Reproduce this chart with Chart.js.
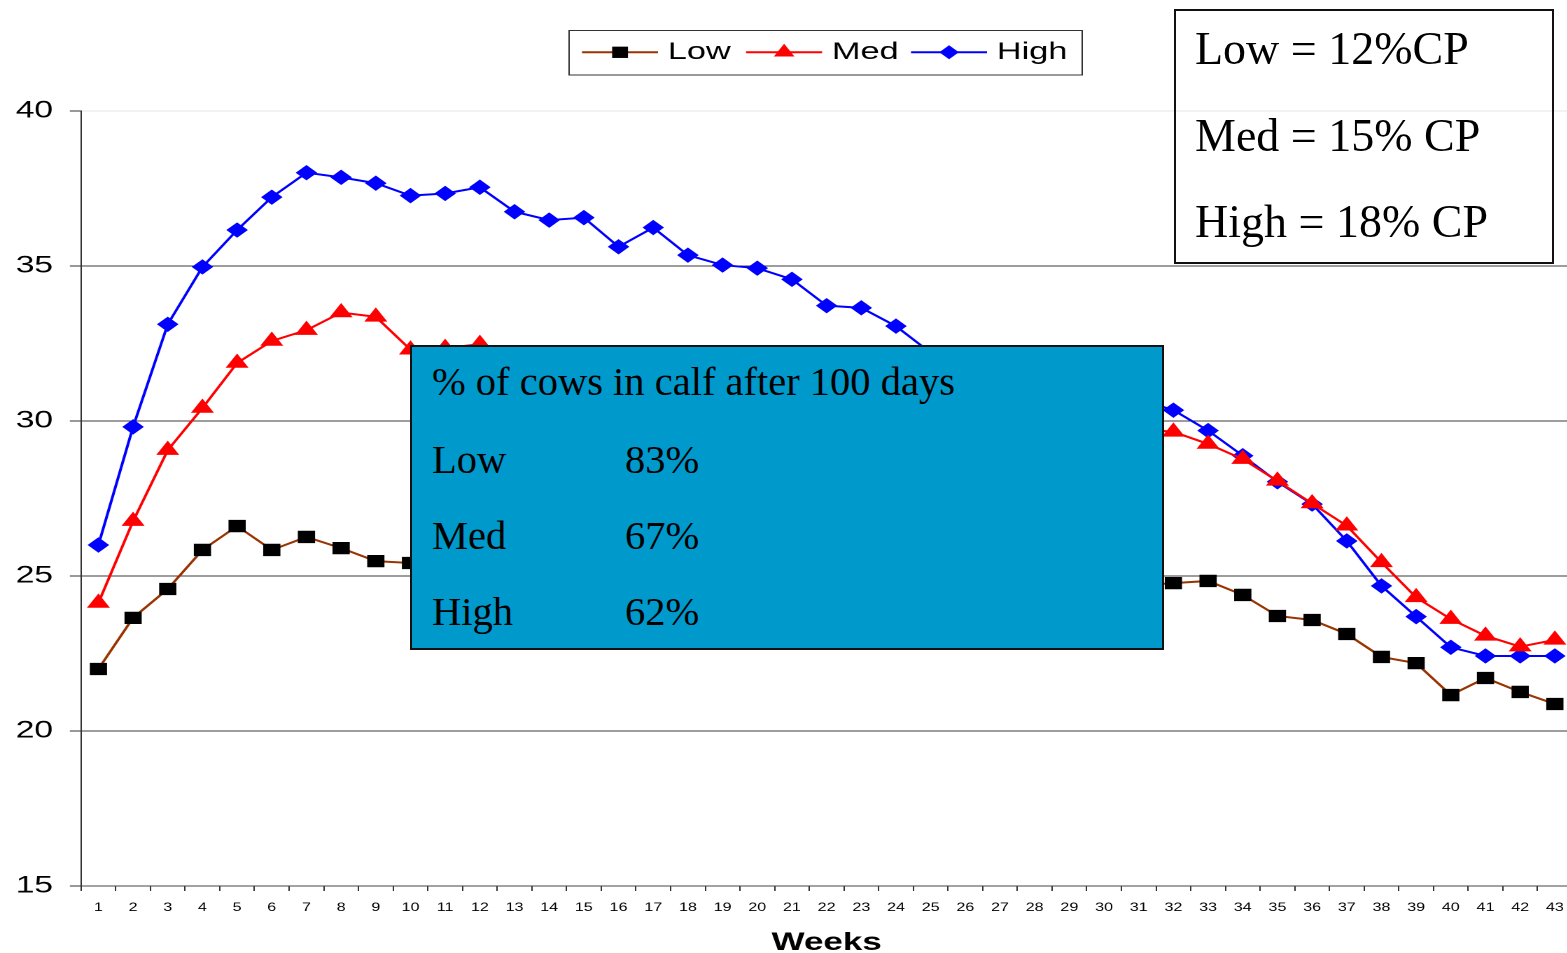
<!DOCTYPE html>
<html>
<head>
<meta charset="utf-8">
<script src="https://cdn.jsdelivr.net/npm/chart.js@4/dist/chart.umd.min.js"></script>
<style>
  html, body { margin:0; padding:0; background:#fff; }
  body { width:1567px; height:953px; overflow:hidden; position:relative; }
  #wrap { position:absolute; left:0; top:0; width:1127px; height:953px; transform:scaleX(1.4); transform-origin:0 0; }
  .box { position:absolute; box-sizing:border-box; border:2px solid #111; }
  .t { position:absolute; white-space:nowrap; font-family:"Liberation Serif","DejaVu Serif",serif; color:#000; line-height:1; }
  #cp .t { font-size:46px; }
  #blue .t { font-size:40.5px; }
</style>
</head>
<body>
<div id="wrap"><canvas id="c" width="1127" height="953"></canvas></div>

<div id="cp" class="box" style="left:1174px;top:9px;width:380px;height:255px;background:transparent;">
  <div class="t" style="left:19px;top:15px;">Low = 12%CP</div>
  <div class="t" style="left:19px;top:102px;">Med = 15% CP</div>
  <div class="t" style="left:19px;top:188px;">High = 18% CP</div>
</div>

<div id="blue" class="box" style="left:410px;top:345px;width:754px;height:305px;background:#0099CC;">
  <div class="t" style="left:20px;top:15px;">% of cows in calf after 100 days</div>
  <div class="t" style="left:20px;top:93px;">Low</div>
  <div class="t" style="left:213px;top:93px;">83%</div>
  <div class="t" style="left:20px;top:169px;">Med</div>
  <div class="t" style="left:213px;top:169px;">67%</div>
  <div class="t" style="left:20px;top:245px;">High</div>
  <div class="t" style="left:213px;top:245px;">62%</div>
</div>

<script>
// ---- data ----
const weeks = ['1','2','3','4','5','6','7','8','9','10','11','12','13','14','15','16','17','18','19','20','21','22','23','24','25','26','27','28','29','30','31','32','33','34','35','36','37','38','39','40','41','42','43'];
const seriesNames = ['Low','Med','High'];
const lowValues = [22.0, 23.65, 24.58, 25.84, 26.61, 25.84, 26.26, 25.9, 25.48, 25.42,
  25.5, 25.3, 25.4, 25.2, 25.3, 25.0, 25.2, 25.1, 24.9, 25.0, 24.9, 24.7, 24.8, 24.9, 24.6, 24.8, 24.7, 24.6, 24.8, 24.7, 24.7,
  24.77, 24.84, 24.39, 23.71, 23.58, 23.13, 22.39, 22.19, 21.16, 21.71, 21.26, 20.87];
const medValues = [24.13, 26.77, 29.06, 30.42, 31.87, 32.58, 32.93, 33.5, 33.36, 32.3, 32.35, 32.48,
  32.0, 31.8, 31.9, 31.4, 31.6, 31.2, 31.0, 31.1, 30.8, 30.5, 30.6, 30.3, 30.2, 30.0, 30.1, 29.9, 29.8, 29.9, 29.75,
  29.65, 29.26, 28.77, 28.07, 27.34, 26.62, 25.44, 24.31, 23.61, 23.07, 22.72, 22.94];
const highValues = [26.0, 29.81, 33.12, 34.97, 36.16, 37.22, 38.01, 37.86, 37.67, 37.27, 37.34, 37.54,
  36.75, 36.48, 36.56, 35.62, 36.24, 35.35, 35.03, 34.93, 34.57, 33.72, 33.65, 33.06,
  32.2, 31.9, 31.7, 31.3, 31.1, 30.9, 30.7,
  30.35, 29.69, 28.88, 28.04, 27.32, 26.13, 24.68, 23.69, 22.7, 22.42, 22.42, 22.42];
const yTicks = [15, 20, 25, 30, 35, 40];
const xTitle = 'Weeks';

// ---- styles ----
const styles = [
  { line:'#993300', fill:'#000000', point:'rect', r:8 },
  { line:'#FF0000', fill:'#FF0000', point:'triangle', r:8.5 },
  { line:'#0000FF', fill:'#0000FF', point:'rectRot', r:7 }
];
const allValues = [lowValues, medValues, highValues];

function drawMarker(ctx, style, r, x, y) {
  ctx.beginPath();
  if (style === 'rect') {
    const s = Math.SQRT1_2 * r;
    ctx.rect(x - s, y - s, 2*s, 2*s);
  } else if (style === 'triangle') {
    ctx.moveTo(x, y - r);
    ctx.lineTo(x + Math.sin(2*Math.PI/3)*r, y + 0.5*r);
    ctx.lineTo(x - Math.sin(2*Math.PI/3)*r, y + 0.5*r);
    ctx.closePath();
  } else {
    ctx.moveTo(x - r, y); ctx.lineTo(x, y - r); ctx.lineTo(x + r, y); ctx.lineTo(x, y + r); ctx.closePath();
  }
  ctx.fill();
}

const legendPlugin = {
  id: 'customLegend',
  afterDraw(chart) {
    const ctx = chart.ctx;
    ctx.save();
    ctx.strokeStyle = '#333';
    ctx.lineWidth = 1;
    ctx.strokeRect(406.5, 30.5, 366.5, 44.5);
    const xs = [415.7, 532.9, 650.7];
    const ly = 52.3;
    ctx.font = '24.5px "Liberation Sans", Arial, sans-serif';
    ctx.textBaseline = 'alphabetic';
    seriesNames.forEach((n, i) => {
      const st = styles[i];
      ctx.strokeStyle = st.line;
      ctx.lineWidth = 2;
      ctx.beginPath(); ctx.moveTo(xs[i], ly); ctx.lineTo(xs[i] + 54.3, ly); ctx.stroke();
      ctx.fillStyle = st.fill;
      drawMarker(ctx, st.point, st.r, xs[i] + 27.2, ly);
      ctx.fillStyle = '#000';
      ctx.fillText(n, xs[i] + 61.3, 58.8);
    });
    ctx.restore();
  }
};

const datasets = seriesNames.map((n, i) => ({
  label: n,
  data: allValues[i],
  borderColor: styles[i].line,
  backgroundColor: styles[i].fill,
  borderWidth: 2,
  pointStyle: styles[i].point,
  pointRadius: styles[i].r,
  pointHoverRadius: styles[i].r,
  pointBackgroundColor: styles[i].fill,
  pointBorderColor: styles[i].fill,
  pointBorderWidth: 1,
  tension: 0,
  fill: false
}));

new Chart(document.getElementById('c'), {
  type: 'line',
  data: { labels: weeks, datasets },
  plugins: [legendPlugin],
  options: {
    responsive: false,
    animation: false,
    devicePixelRatio: 2,
    layout: { autoPadding: false, padding: { top: 111, left: 0, right: 0, bottom: 0 } },
    plugins: { legend: { display: false }, tooltip: { enabled: false }, title: { display: false } },
    scales: {
      x: {
        type: 'category',
        offset: true,
        afterFit: (s) => { s.height = 67; },
        grid: { display: true, drawOnChartArea: false, drawTicks: true, tickLength: 5, offset: true, color: '#333', lineWidth: 1 },
        border: { display: true, color: '#444', width: 1 },
        ticks: { autoSkip: false, maxRotation: 0, minRotation: 0, padding: 10, color: '#000',
                 font: { family: '"Liberation Sans", Arial, sans-serif', size: 11.5 } },
        title: { display: true, text: xTitle, color: '#000', padding: { top: 0, bottom: 0 },
                 font: { family: '"Liberation Sans", Arial, sans-serif', size: 25, weight: 'bold', lineHeight: 0.8 } }
      },
      y: {
        min: 15, max: 40,
        afterFit: (s) => { s.width = 57.9; },
        afterBuildTicks: (s) => { s.ticks = yTicks.map(v => ({ value: v })); },
        grid: {
          color: (c) => (c.tick && c.tick.value === 40) ? '#e4e4e4' : '#3a3a3a',
          tickColor: '#333', tickLength: 8, lineWidth: 1
        },
        border: { display: true, color: '#333', width: 1 },
        ticks: { stepSize: 5, padding: 12, color: '#000',
                 font: { family: '"Liberation Sans", Arial, sans-serif', size: 24 } }
      }
    }
  }
});
</script>
</body>
</html>
